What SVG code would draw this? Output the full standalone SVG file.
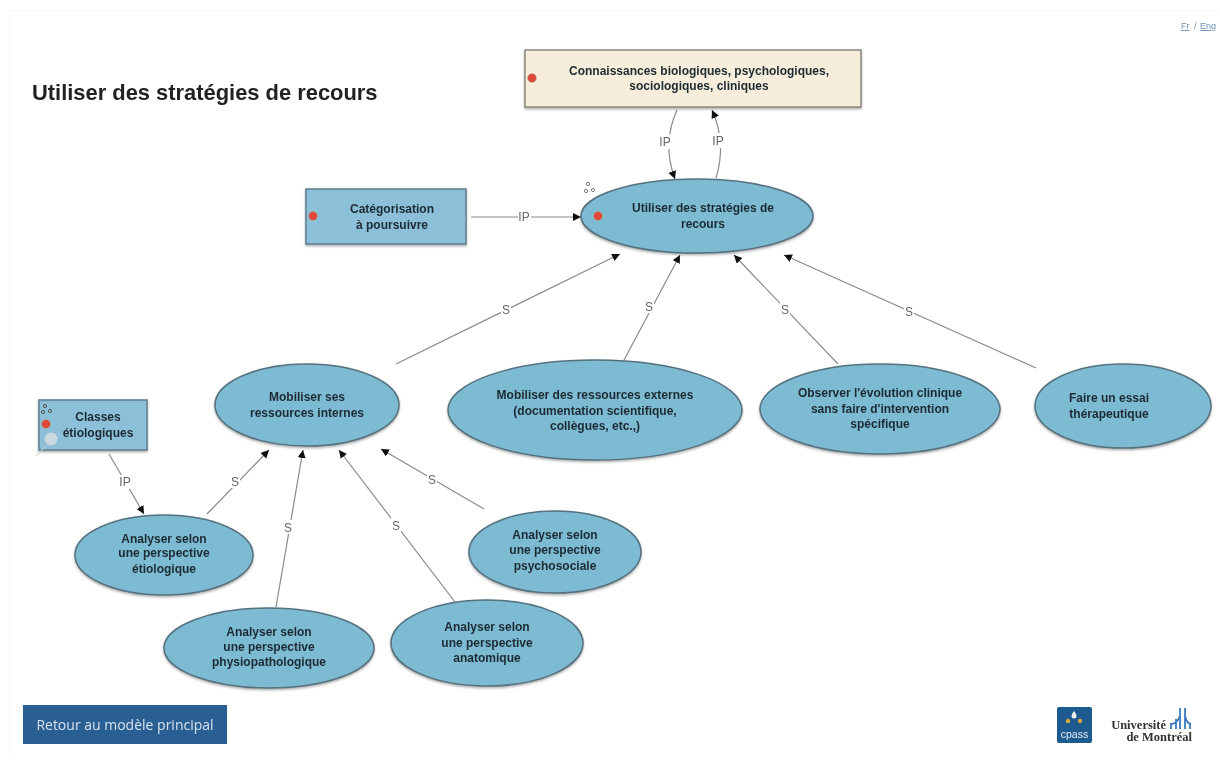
<svg xmlns="http://www.w3.org/2000/svg" width="1220" height="762" viewBox="0 0 1220 762">
<style>
.n{font:bold 12px "Liberation Sans",Arial,sans-serif;fill:#1d2a33;text-anchor:middle}
.l{font:12px "Liberation Sans",Arial,sans-serif;fill:#666;text-anchor:middle}
.e{fill:#7dbbd3;stroke:#56717f;stroke-width:1.5;filter:url(#s)}
.r{fill:#8cc0d8;stroke:#5f7f8f;stroke-width:1.5;filter:url(#s)}
.d{fill:#dd4a3c;stroke:#b5c0a0;stroke-width:.5}
.c{fill:none;stroke:#8a8a8a;stroke-width:1.2;marker-end:url(#a)}
.b{fill:#fff}
.u{font:9px "Liberation Sans",Arial,sans-serif;fill:#6c8fb8}
.m{font:bold 12.5px "Liberation Serif",serif;fill:#333;text-anchor:end}
</style>
<defs>
<marker id="a" markerWidth="9" markerHeight="9" refX="8" refY="4" orient="auto" markerUnits="userSpaceOnUse"><path d="M0 0L8 4L0 8z" fill="#111"/></marker>
<filter id="s" x="-5%" y="-5%" width="110%" height="115%"><feDropShadow dx="0" dy="1.5" stdDeviation="1" flood-color="#555" flood-opacity=".5"/></filter>
<filter id="soft" x="0" y="0" width="100%" height="100%"><feGaussianBlur stdDeviation=".4"/></filter>
</defs>
<rect width="1220" height="762" fill="#fff"/>
<g filter="url(#soft)">
<path d="M8 10H1218" stroke="#f0f0ec" fill="none"/>
<path d="M8 10V755" stroke="#f5f5f2" fill="none"/>
<text x="32" y="100" style="font:bold 21.9px 'Liberation Sans',Arial,sans-serif;fill:#222">Utiliser des stratégies de recours</text>
<text x="1181" y="29" class="u" style="text-decoration:underline">Fr</text>
<text x="1194" y="29" class="u">/</text>
<text x="1200" y="29" class="u" style="text-decoration:underline">Eng</text>
<g id="connectors">
<path class="c" d="M677 110C667 132 666 155 675 179"/>
<path class="c" d="M716 178C723 155 722 132 712 110"/>
<path class="c" d="M471 217H581"/>
<path class="c" d="M396 364L620 254"/>
<path class="c" d="M624 360L680 255"/>
<path class="c" d="M838 364L734 255"/>
<path class="c" d="M1036 368L784 255"/>
<path class="c" d="M109 454L144 514"/>
<path class="c" d="M207 514L269 450"/>
<path class="c" d="M276 607L303 450"/>
<path class="c" d="M455 602L339 450"/>
<path class="c" d="M484 509L381 449"/>
<rect class="b" x="660" y="134" width="10" height="15"/><text class="l" x="665" y="146">IP</text>
<rect class="b" x="712" y="133" width="12" height="15"/><text class="l" x="718" y="145">IP</text>
<rect class="b" x="518" y="210" width="13" height="14"/><text class="l" x="524" y="221">IP</text>
<rect class="b" x="501" y="302" width="10" height="14"/><text class="l" x="506" y="314">S</text>
<rect class="b" x="644" y="299" width="10" height="14"/><text class="l" x="649" y="311">S</text>
<rect class="b" x="780" y="302" width="10" height="14"/><text class="l" x="785" y="314">S</text>
<rect class="b" x="904" y="304" width="10" height="14"/><text class="l" x="909" y="316">S</text>
<rect class="b" x="118" y="475" width="13" height="14"/><text class="l" x="125" y="486">IP</text>
<rect class="b" x="230" y="474" width="10" height="14"/><text class="l" x="235" y="486">S</text>
<rect class="b" x="283" y="520" width="10" height="14"/><text class="l" x="288" y="532">S</text>
<rect class="b" x="391" y="518" width="10" height="14"/><text class="l" x="396" y="530">S</text>
<rect class="b" x="427" y="472" width="10" height="14"/><text class="l" x="432" y="484">S</text>
</g>
<g id="n-connaissances"><rect x="525" y="50" width="336" height="57" fill="#f6eedb" stroke="#8a8a80" stroke-width="1.5" filter="url(#s)"/><circle class="d" cx="532" cy="78" r="4.5"/><text class="n" x="699" y="75">Connaissances biologiques, psychologiques,</text><text class="n" x="699" y="90">sociologiques, cliniques</text></g>
<g id="n-categorisation"><rect class="r" x="306" y="189" width="160" height="55"/><circle class="d" cx="313" cy="216" r="4.5"/><text class="n" x="392" y="213">Catégorisation</text><text class="n" x="392" y="229">à poursuivre</text></g>
<g id="n-utiliser"><ellipse class="e" cx="697" cy="216" rx="116" ry="37"/><circle class="d" cx="598" cy="216" r="4.5"/><text class="n" x="703" y="212">Utiliser des stratégies de</text><text class="n" x="703" y="228">recours</text><g fill="none" stroke="#777" stroke-width="1"><circle cx="588" cy="184" r="1.6"/><circle cx="586" cy="191" r="1.6"/><circle cx="593" cy="190" r="1.6"/></g></g>
<g id="n-internes"><ellipse class="e" cx="307" cy="405" rx="92" ry="41"/><text class="n" x="307" y="401">Mobiliser ses</text><text class="n" x="307" y="417">ressources internes</text></g>
<g id="n-externes"><ellipse class="e" cx="595" cy="410" rx="147" ry="50"/><text class="n" x="595" y="399">Mobiliser des ressources externes</text><text class="n" x="595" y="415">(documentation scientifique,</text><text class="n" x="595" y="430">collègues, etc.,)</text></g>
<g id="n-observer"><ellipse class="e" cx="880" cy="409" rx="120" ry="45"/><text class="n" x="880" y="397">Observer l'évolution clinique</text><text class="n" x="880" y="413">sans faire d'intervention</text><text class="n" x="880" y="428">spécifique</text></g>
<g id="n-essai"><ellipse class="e" cx="1123" cy="406" rx="88" ry="42"/><text class="n" x="1109" y="402">Faire un essai</text><text class="n" x="1109" y="418">thérapeutique</text></g>
<g id="n-classes"><rect class="r" x="39" y="400" width="108" height="50"/><circle class="d" cx="46" cy="424" r="4.5"/><circle cx="51" cy="439" r="6.5" fill="#ccd8e0"/><path d="M47 445L36 456" stroke="#ccc"/><g fill="none" stroke="#555" stroke-width="1"><circle cx="45" cy="406" r="1.6"/><circle cx="43" cy="412" r="1.6"/><circle cx="50" cy="411" r="1.6"/></g><text class="n" x="98" y="421">Classes</text><text class="n" x="98" y="437">étiologiques</text></g>
<g id="n-etiologique"><ellipse class="e" cx="164" cy="555" rx="89" ry="40"/><text class="n" x="164" y="543">Analyser selon</text><text class="n" x="164" y="557">une perspective</text><text class="n" x="164" y="573">étiologique</text></g>
<g id="n-physio"><ellipse class="e" cx="269" cy="648" rx="105" ry="40"/><text class="n" x="269" y="636">Analyser selon</text><text class="n" x="269" y="651">une perspective</text><text class="n" x="269" y="666">physiopathologique</text></g>
<g id="n-anatomique"><ellipse class="e" cx="487" cy="643" rx="96" ry="43"/><text class="n" x="487" y="631">Analyser selon</text><text class="n" x="487" y="647">une perspective</text><text class="n" x="487" y="662">anatomique</text></g>
<g id="n-psycho"><ellipse class="e" cx="555" cy="552" rx="86" ry="41"/><text class="n" x="555" y="539">Analyser selon</text><text class="n" x="555" y="554">une perspective</text><text class="n" x="555" y="570">psychosociale</text></g>
<g id="retour"><rect x="23" y="705" width="204" height="39" fill="#2b5f93"/><text x="125" y="730" style="font:14px 'Open Sans','Liberation Sans',sans-serif;fill:#d8e3ee;text-anchor:middle">Retour au modèle principal</text></g>
<g id="logos"><rect x="1057" y="707" width="35" height="36" rx="2" fill="#1f5a8f"/><path d="M1074 711l2 3h-4z" fill="#f0f0f0"/><circle cx="1074" cy="716" r="2.5" fill="#f0f0f0"/><circle cx="1068" cy="721" r="2.2" fill="#d8a83a"/><circle cx="1080" cy="721" r="2.2" fill="#d8a83a"/><text x="1074.500" y="738" style="font:10.500px 'Liberation Sans',sans-serif;fill:#e4edf5;text-anchor:middle">cpass</text>
<text x="1166" y="729" class="m">Université</text><text x="1192" y="741" class="m">de Montréal</text><path d="M1171 729V723M1176 729V719M1180 708V729M1185 708V729M1190 729V723M1171 724Q1177 724 1180 716M1185 716Q1187 724 1191 724" fill="none" stroke="#3a7ac0" stroke-width="1.8"/></g>
</g>
</svg>
